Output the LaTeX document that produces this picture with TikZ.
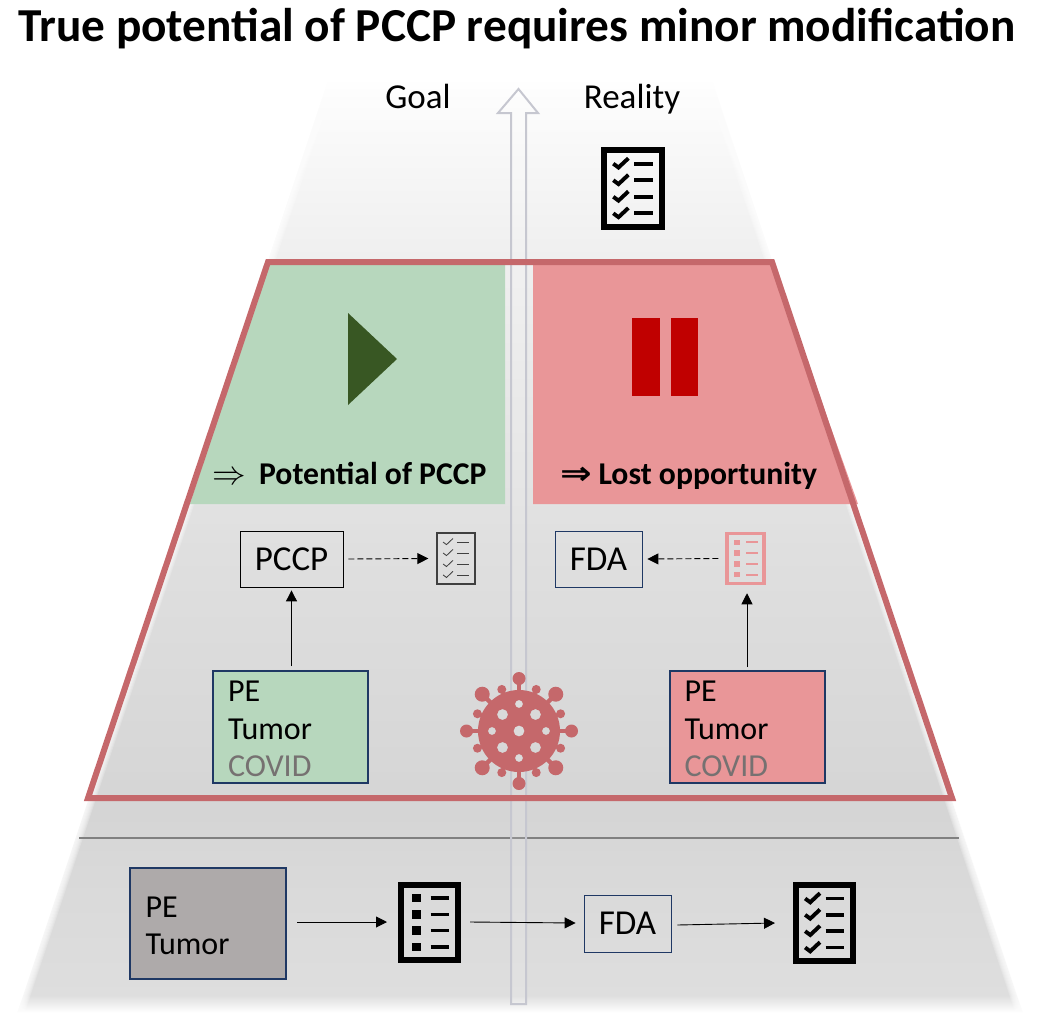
\documentclass[tikz,border=0pt]{standalone}
\usepackage{fontspec}
\setmainfont{Carlito}
\newfontfamily\symfont{DejaVu Sans}
\usetikzlibrary{arrows.meta,calc}
\definecolor{redline}{HTML}{C5686B}
\definecolor{greenpanel}{HTML}{B7D7BD}
\definecolor{redpanel}{HTML}{E99698}
\definecolor{playgreen}{HTML}{385723}
\definecolor{pausered}{HTML}{C00000}
\definecolor{boxnavy}{HTML}{1F3864}
\definecolor{boxgrey}{HTML}{AEAAAA}
\definecolor{covidgrey}{HTML}{767171}
\definecolor{arrowgrey}{HTML}{C6C7D0}
\pgfdeclareverticalshading{pyramidfade}{100bp}{
  color(0bp)=(white); color(25bp)=(white); color(25.4bp)=(white);
  color(26.3bp)=(black!13); color(33bp)=(black!15); color(36bp)=(black!16.5);
  color(50bp)=(black!12.5); color(66bp)=(black!6); color(74bp)=(black!1);
  color(75bp)=(white); color(100bp)=(white)}
\tikzset{
  textbox/.style={draw=black,line width=0.8pt,inner sep=0pt,font=\fontsize{35}{40}\selectfont},
  agentbox/.style={textbox,draw=boxnavy},
  casebox/.style={draw=boxnavy,line width=2pt,minimum width=155pt,minimum height=112pt,inner sep=0pt,
    text width=125pt,align=left,font=\fontsize{32}{37.5}\selectfont,
    execute at begin node={\rule{0pt}{25pt}}},
  headlabel/.style={anchor=base,font=\fontsize{35}{40}\selectfont},
  panellabel/.style={anchor=base,font=\bfseries\fontsize{31.7}{36}\selectfont},
  flow/.style={-{Triangle[length=11pt,width=11pt]},line width=0.9pt,black},
  flowdash/.style={flow,dash pattern=on 6pt off 3pt}
}
% list icon: name, x, y, w, h, line width, colour, check or square marks
\newcommand{\listicon}[8]{
  \node[draw=#7,line width=#6pt,inner sep=0pt,minimum width=#4pt,minimum height=#5pt] (#1) at (#2,#3) {};
  \foreach \k in {0,1,2,3}{
    \coordinate (mk) at ($(#1.center)+(0,{(\k-1.5)*0.215*#5})$);
    \draw[#7,line width=0.62*#6pt] ($(mk)+(0.02*#4,0)$) -- +(0.32*#4,0);
    \ifnum#8=1
      \draw[#7,line width=0.65*#6pt] ($(mk)+(-0.34*#4,0)$) -- +(0.09*#4,0.05*#5) -- +(0.26*#4,-0.07*#5);
    \else
      \fill[#7] ($(mk)+(-0.3*#4,-0.055*#5)$) rectangle +(0.15*#4,0.11*#5);
    \fi
  }
}
\begin{document}
\begin{tikzpicture}[x=1pt,y=-1pt]
\useasboundingbox (0,0) rectangle (1039,1028);
%PYRAMID
\shade[shading=pyramidfade] (329,78) -- (711,78) -- (1025,1020) -- (15,1020) -- cycle;
%soft sides
\foreach \w in {2,4,...,14}{
  \draw[white,opacity=0.2,line width=\w pt] (329,78) -- (15,1020);
  \draw[white,opacity=0.2,line width=\w pt] (711,78) -- (1025,1020);
}
\draw[black!50,line width=1.5pt] (79,838) -- (959,838);
%PANELS
\fill[greenpanel] (268,262) -- (505,262) -- (505,504) -- (190,504) -- cycle;
\fill[redpanel] (533,262) -- (772,262) -- (858,504) -- (533,504) -- cycle;
%CENTRE ARROW
\draw[arrowgrey,line width=2pt,fill=white,fill opacity=0.12,line join=miter]
  (511,1004) -- (526,1004) -- (526,113) -- (538,113) -- (518.5,89) -- (498,113) -- (511,113) -- cycle;
%FRAME
\draw[redline,line width=6pt,line join=miter] (268,262) -- (772,262) -- (952,798) -- (88,798) -- cycle;
\fill[playgreen] (348,313) -- (397,359) -- (348,405) -- cycle;
\fill[pausered] (632,318) rectangle (660,396);
\fill[pausered] (671,318) rectangle (698,396);
%TITLE
\node[anchor=base,font=\bfseries\fontsize{47.3}{52}\selectfont] (title) at (517,41) {True potential of PCCP requires minor modification};
\node[headlabel] (goal) at (418,108) {Goal};
\node[headlabel] (reality) at (632,108) {Reality};
\node[panellabel] (potential) at (349.5,484) {\scalebox{1.35}{$\Rightarrow$}\hspace{13pt}Potential of PCCP};
\node[panellabel] (lost) at (689,484) {\scalebox{1.35}[1.15]{\symfont\fontsize{28}{30}\selectfont ⇒}\hspace{6pt}Lost opportunity};
%TOP ROW
\listicon{listtop}{633}{188.5}{58}{77}{6}{black}{1}
%VIRUS
\coordinate (virus) at (519,731);
\fill[redline,even odd rule] (virus) circle (41)
  (virus) circle (5.5)
  \foreach \a in {45,135,225,315}{ ($(virus)+(\a:23.3)$) circle (5.5) }
  \foreach \a in {0,90,180,270}{ ($(virus)+(\a:27)$) circle (4) };
\foreach \a in {0,90,...,270}{
  \draw[redline,line width=4.5pt] (virus) ++(\a:40) -- ++(\a:12);
  \fill[redline] (virus) ++(\a:52.5) circle (6.5);
}
\foreach \a in {45,135,225,315}{
  \draw[redline,line width=4.5pt] (virus) ++(\a:40) -- ++(\a:12);
  \fill[redline] (virus) ++(\a:52) circle (7.5);
}
\foreach \a in {22.5,67.5,...,337.5}{
  \draw[redline,line width=3pt] (virus) ++(\a:40) -- ++(\a:6);
  \fill[redline] (virus) ++(\a:45) circle (4.5);
}
%MIDDLE
\node[textbox,minimum width=103pt,minimum height=56pt] (pccp) at (291.5,559) {PCCP};
\listicon{listgood}{456}{558.5}{38}{51}{1.3}{black!75}{1}
\node[agentbox,minimum width=87pt,minimum height=56pt] (fdamid) at (598.5,559) {FDA};
\listicon{listbad}{745.5}{558.5}{37}{50}{3.5}{redpanel}{0}
\node[casebox,fill=greenpanel] (casegood) at (290.5,727) {PE\\Tumor\\\textcolor{covidgrey}{COVID}};
\node[casebox,fill=redpanel] (casebad) at (747,727) {PE\\Tumor\\\textcolor{covidgrey}{COVID}};
\draw[flow] ($(casegood.north -| pccp.south)+(0,-4)$) -- ($(pccp.south)+(0,3)$);
\draw[flowdash] (pccp.east) ++(5,0) -- ($(listgood.west)+(-8,0)$);
\draw[flow] (casebad.north) ++(0,-3) -- ($(listbad.south)+(1.5,8)$);
\draw[flowdash] (listbad.west) ++(-7,0) -- ($(fdamid.east)+(5,0)$);
%BOTTOM ROW
\node[casebox,fill=boxgrey,minimum height=111pt,minimum width=156pt] (caseold) at (208,923.5) {PE\\Tumor};
\listicon{listold}{429.5}{922.5}{57}{75}{6}{black}{0}
\node[agentbox,minimum width=87pt,minimum height=57pt] (fdaold) at (627.5,923.5) {FDA};
\listicon{listnew}{824.5}{923}{57}{76}{6}{black}{1}
\draw[flow] (caseold.east) ++(10,-1.5) -- ($(listold.west)+(-11,-0.5)$);
\draw[flow] (listold.east) ++(9,-0.5) -- ($(fdaold.west)+(-8,-0.5)$);
\draw[flow] (fdaold.east) ++(6,1.5) -- ($(listnew.west)+(-18,0)$);
\end{tikzpicture}
\end{document}
